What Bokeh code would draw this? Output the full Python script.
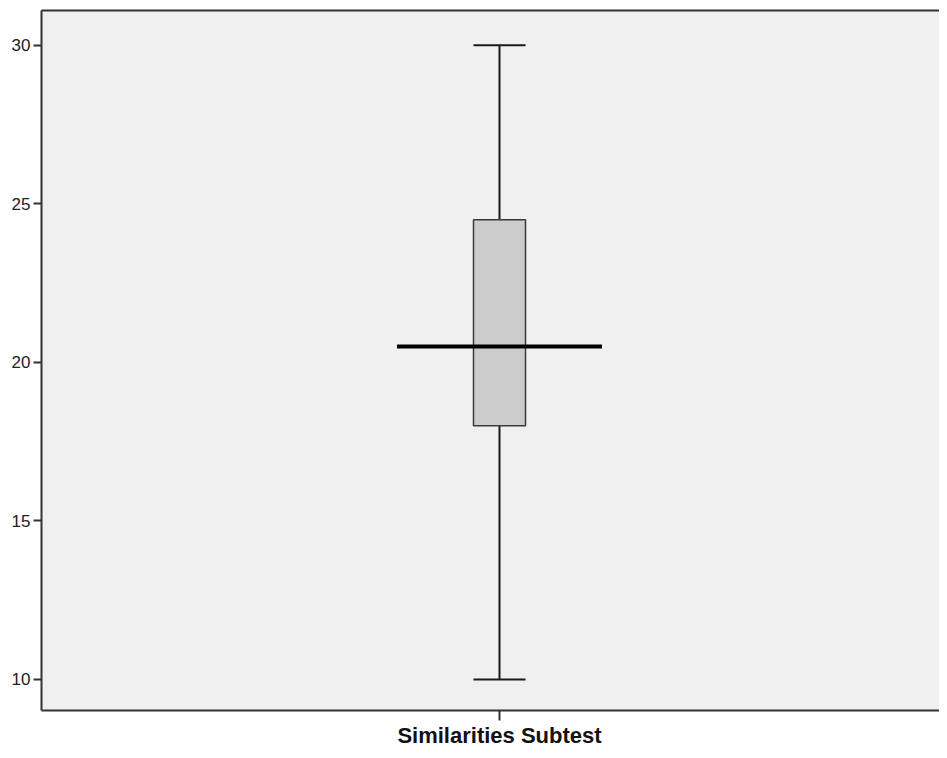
from bokeh.plotting import figure
from bokeh.models import Range1d, FixedTicker, LinearAxis, ColumnDataSource
from bokeh.embed import file_html
from bokeh.resources import INLINE

# ---- data ----
categories = ["Similarities Subtest"]
positions = [0]
lower_whisker = [10]
q1 = [18]
median = [20.5]
q3 = [24.5]
upper_whisker = [30]
y_ticks = [10, 15, 20, 25, 30]

src = ColumnDataSource(dict(
    x=positions, lo=lower_whisker, q1=q1, med=median, q3=q3, hi=upper_whisker,
    mid=[(a + b) / 2 for a, b in zip(q1, q3)],
    h=[b - a for a, b in zip(q1, q3)],
))

FONT = "Liberation Sans"

p = figure(width=939, height=750, output_backend="svg", toolbar_location=None,
           x_range=Range1d(-458, 440), y_range=Range1d(9.02, 31.10),
           min_border_left=41, min_border_right=0, min_border_top=10, min_border_bottom=38,
           background_fill_color="#F0F0F0", border_fill_color="white")
p.outline_line_color = None
p.grid.visible = False

# whisker line
p.segment(x0="x", y0="lo", x1="x", y1="hi", source=src, line_color="#1a1a1a", line_width=2)
# box
p.rect(x="x", y="mid", width=52, width_units="screen", height="h", source=src,
       fill_color="#CCCCCC", line_color="#3a3a3a", line_width=1.5)
# caps
p.scatter(x="x", y="lo", marker="dash", size=52, source=src, line_color="#1a1a1a", line_width=2)
p.scatter(x="x", y="hi", marker="dash", size=52, source=src, line_color="#1a1a1a", line_width=2)
# median
p.scatter(x="x", y="med", marker="dash", size=205, source=src, line_color="black", line_width=4)

# axes
ya = p.yaxis[0]
ya.ticker = FixedTicker(ticks=y_ticks)
ya.axis_line_color = "#333333"
ya.axis_line_width = 2
ya.major_tick_line_color = "#333333"
ya.major_tick_line_width = 2
ya.major_tick_out = 8
ya.major_tick_in = 0
ya.minor_tick_line_color = None
ya.major_label_standoff = 3
ya.major_label_text_font = FONT
ya.major_label_text_font_size = "17px"
ya.major_label_text_color = "#222222"

xa = p.xaxis[0]
xa.ticker = FixedTicker(ticks=positions)
xa.major_label_overrides = {pos: c for pos, c in zip(positions, categories)}
xa.axis_line_color = "#333333"
xa.axis_line_width = 2
xa.major_tick_line_color = "#333333"
xa.major_tick_line_width = 2
xa.major_tick_out = 10
xa.major_tick_in = 0
xa.minor_tick_line_color = None
xa.major_label_standoff = 2
xa.major_label_text_font = FONT
xa.major_label_text_font_size = "22px"
xa.major_label_text_font_style = "bold"
xa.major_label_text_color = "#111111"

top = LinearAxis(ticker=FixedTicker(ticks=[]), axis_line_color="#333333", axis_line_width=2,
                 major_tick_out=0, major_tick_in=0, minor_tick_out=0, minor_tick_in=0,
                 major_label_text_font_size="0px", major_label_standoff=0)
p.add_layout(top, "above")

open("out.html", "w").write(file_html(p, INLINE))
